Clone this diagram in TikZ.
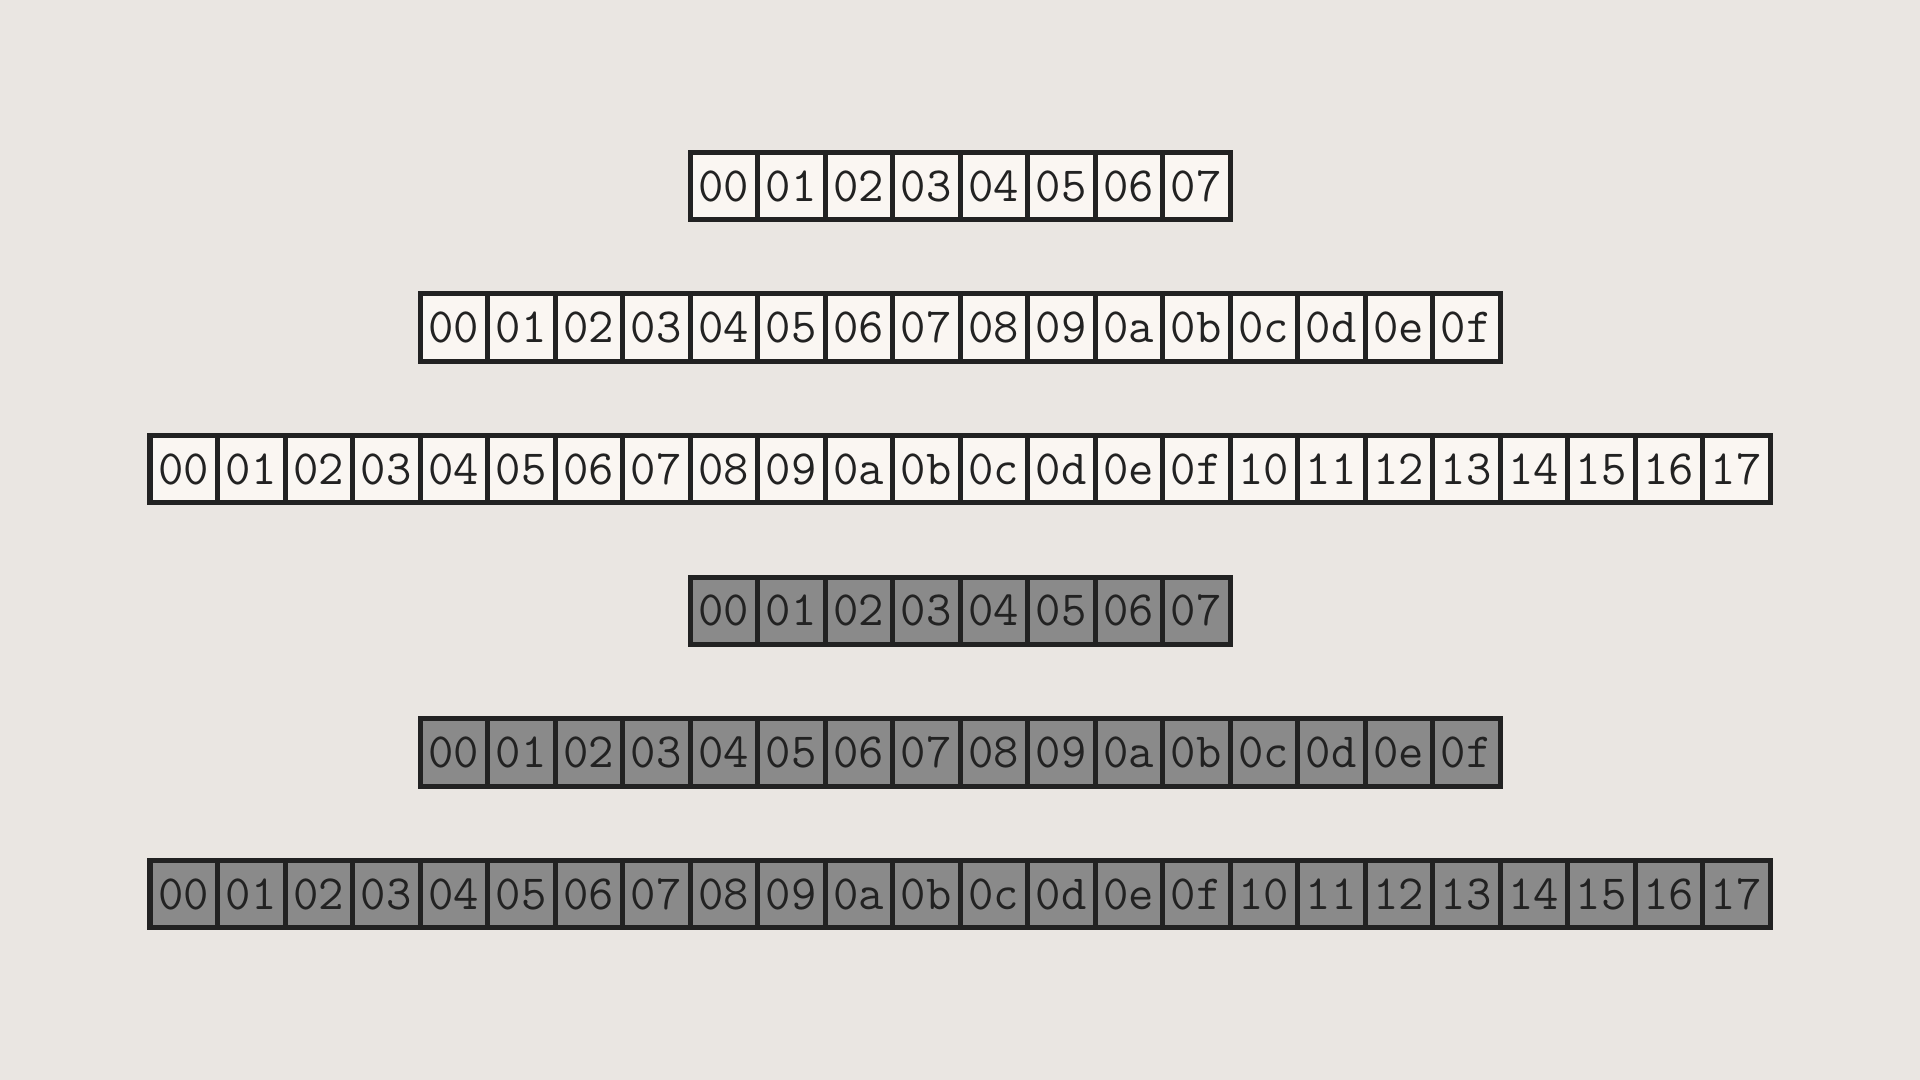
\documentclass[tikz,border=0pt]{standalone}
\usepackage{xcolor}
\usepackage{tikz}
\definecolor{paper}{HTML}{EAE6E2}
\definecolor{ink}{HTML}{222222}
\definecolor{blank}{HTML}{FAF6F2}
\definecolor{shade}{HTML}{8A8A8A}
\tikzstyle{cell} = [draw=ink, line width=0.05cm, minimum width=0.675cm,
    minimum height=0.675cm, inner sep=0pt, outer sep=0pt, text=ink,
    font=\ttfamily\fontsize{14}{16}\selectfont]
\tikzstyle{light} = [cell, fill=blank]
\tikzstyle{dark} = [cell, fill=shade]

\begin{document}
\begin{tikzpicture}
\fill[paper] (0,0) rectangle (19.2,10.8);
\useasboundingbox (0,0) rectangle (19.2,10.8);
% one row of cells per buffer
\foreach \n/\r/\look in {8/0/light,16/1/light,24/2/light,8/3/dark,16/4/dark,24/5/dark}
{
    \foreach \lab [count=\i from 0] in {00,01,02,03,04,05,06,07,08,09,0a,0b,
        0c,0d,0e,0f,10,11,12,13,14,15,16,17}
    {
        \ifnum\i<\n
            \node[\look] (r\r-\i) at ({9.6+(\i-(\n-1)/2)*0.675}, {8.94-1.416*\r}) {\lab};
        \fi
    }
}
\end{tikzpicture}
\end{document}
